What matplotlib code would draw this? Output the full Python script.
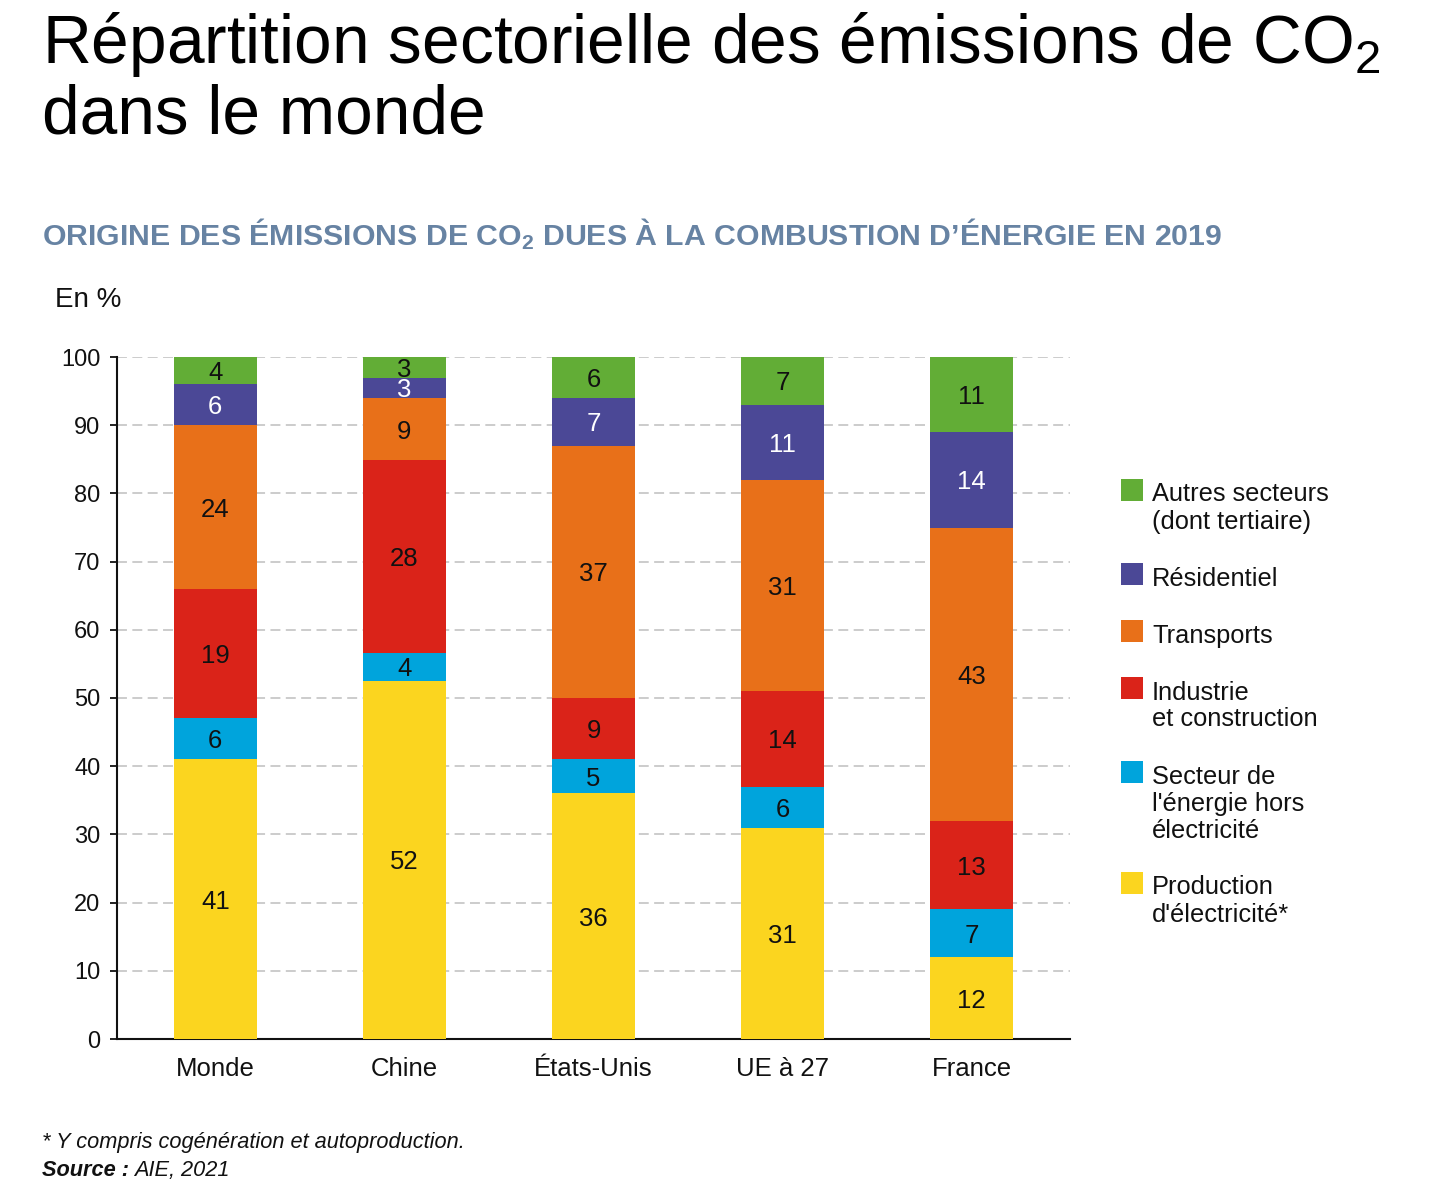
import matplotlib
matplotlib.use("Agg")
import matplotlib.pyplot as plt
from matplotlib.patches import Rectangle
import numpy as np

# ---------------- data ----------------
countries = ["Monde", "Chine", "États-Unis", "UE à 27", "France"]
sectors = ["Production\nd'électricité*",
           "Secteur de\nl'énergie hors\nélectricité",
           "Industrie\net construction",
           "Transports",
           "Résidentiel",
           "Autres secteurs\n(dont tertiaire)"]
production_electricite = [41, 52, 36, 31, 12]
energie_hors_elec = [6, 4, 5, 6, 7]
industrie = [19, 28, 9, 14, 13]
transports = [24, 9, 37, 31, 43]
residentiel = [6, 3, 7, 11, 14]
autres = [4, 3, 6, 7, 11]
y_ticks = [0, 10, 20, 30, 40, 50, 60, 70, 80, 90, 100]

colors = ["#FBD51F", "#00A4DC", "#DA2319", "#E87019", "#4B4896", "#62AD36"]
label_colors = ["#111111", "#111111", "#111111", "#111111", "white", "#111111"]

series = np.array([production_electricite, energie_hors_elec, industrie,
                   transports, residentiel, autres], dtype=float)
shares = series / series.sum(axis=0) * 100.0  # each bar as % of its total

W, H = 1456, 1200
plt.rcParams['font.family'] = ['Liberation Sans', 'DejaVu Sans']
plt.rcParams['mathtext.fontset'] = 'custom'
plt.rcParams['mathtext.rm'] = 'Liberation Sans'
plt.rcParams['mathtext.it'] = 'Liberation Sans:italic'
plt.rcParams['mathtext.bf'] = 'Liberation Sans:bold'
plt.rcParams['mathtext.default'] = 'rm'
fig = plt.figure(figsize=(W / 100, H / 100), dpi=100)
renderer = fig.canvas.get_renderer()


def fx(px):
    return px / W


def fy(py):
    return 1 - py / H


def fit_text(x, y, s, target_w, size0, **kw):
    t = fig.text(fx(x), fy(y), s, fontsize=size0, **kw)
    w = t.get_window_extent(renderer).width
    t.set_fontsize(size0 * target_w / w)
    return t


ax = fig.add_axes([fx(117), fy(1039), fx(1070) - fx(117), fy(357) - fy(1039)])
x = np.arange(len(countries))
bottom = np.zeros(len(countries))
for i in range(len(sectors)):
    ax.bar(x, shares[i], 0.44, bottom=bottom, color=colors[i], edgecolor='none', zorder=3)
    for j in range(len(countries)):
        ax.text(x[j], bottom[j] + shares[i][j] / 2, f"{int(series[i][j])}",
                ha='center', va='center_baseline', fontsize=18.5, color=label_colors[i], zorder=4)
    bottom += shares[i]

ax.set_xlim(-0.52, 4.52)
ax.set_ylim(0, 100)
ax.set_yticks(y_ticks)
ax.set_xticks(x)
ax.set_xticklabels(countries)
ax.yaxis.grid(True, color='#c8c8c8', linestyle=(0, (5.5, 3)), linewidth=1.3, zorder=0)
ax.set_axisbelow(True)
for s in ['top', 'right']:
    ax.spines[s].set_visible(False)
for s in ['left', 'bottom']:
    ax.spines[s].set_linewidth(1.5)
    ax.spines[s].set_color('#111111')
ax.tick_params(axis='y', direction='out', length=5, width=1.3, labelsize=17, pad=7,
               colors='#111111')
ax.tick_params(axis='x', length=0, labelsize=18.5, pad=13, colors='#111111')

# ---------------- titles ----------------
t1 = fit_text(42, 63, r"Répartition sectorielle des émissions de CO$_\mathrm{2}$", 1338, 48,
              ha='left', va='baseline', color='black')
t2 = fig.text(fx(42), fy(134), "dans le monde", ha='left', va='baseline', color='black',
              fontsize=t1.get_fontsize())

fit_text(42, 245, r"ORIGINE DES ÉMISSIONS DE CO$_\mathbf{2}$ DUES À LA COMBUSTION D’ÉNERGIE EN 2019",
         1180, 24, ha='left', va='baseline', color='#6783A3', fontweight='bold')

fig.text(fx(55), fy(297), "En %", ha='left', va='center_baseline', fontsize=20, color='#111111')

# ---------------- legend (manual) ----------------
leg_order = list(range(len(sectors)))[::-1]
yline = 492
for i in leg_order:
    lines = sectors[i].split("\n")
    fig.add_artist(Rectangle((fx(1121), fy(yline - 2 + 11)), 22 / W, 22 / H,
                             transform=fig.transFigure, facecolor=colors[i], edgecolor='none'))
    for k, ln in enumerate(lines):
        fig.text(fx(1152), fy(yline + 27 * k), ln, ha='left', va='center_baseline',
                 fontsize=18.3, color='#111111')
    yline += 27 * len(lines) + 30

# ---------------- footnotes ----------------
tf = fit_text(42, 1140, "* Y compris cogénération et autoproduction.", 424, 14.5, ha='left',
              va='center_baseline', style='italic', color='#111111')
fs_foot = tf.get_fontsize()
t_src = fig.text(fx(42), fy(1168), "Source :", ha='left', va='center_baseline', fontsize=fs_foot,
                 style='italic', fontweight='bold', color='#111111')
wsrc = t_src.get_window_extent(renderer).width
fig.text(fx(42 + wsrc + 5), fy(1168), "AIE, 2021", ha='left', va='center_baseline',
         fontsize=fs_foot, style='italic', color='#111111')

fig.savefig("out.png", dpi=100, facecolor='white')
